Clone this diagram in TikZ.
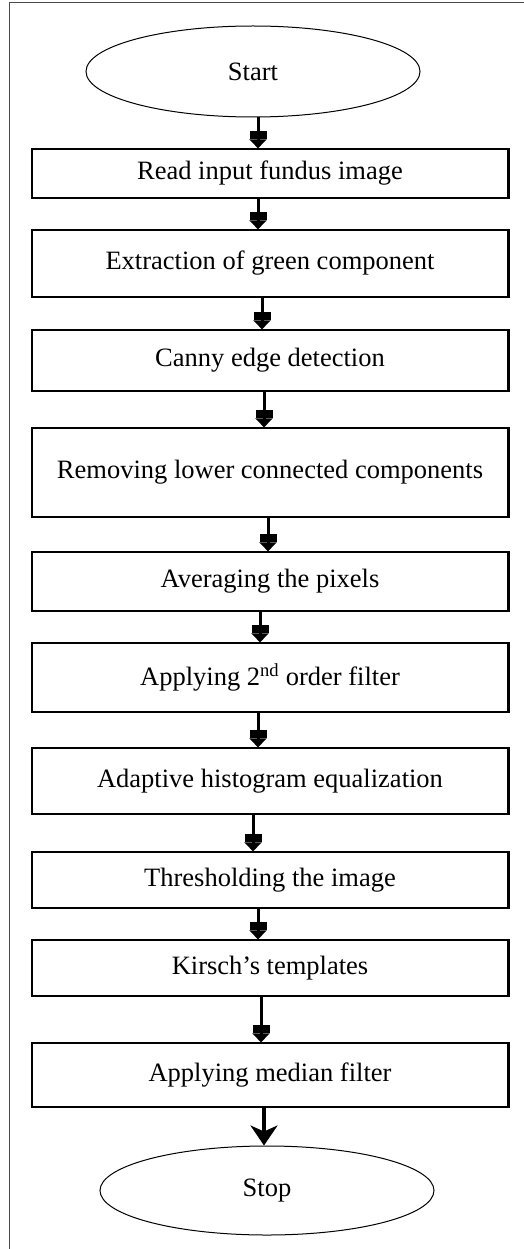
\documentclass[tikz,border=0pt]{standalone}
\usepackage{fontspec}
\setmainfont{Liberation Serif}
\usetikzlibrary{arrows.meta,shapes.geometric}
\begin{document}
\begin{tikzpicture}[x=1pt,y=-1pt,
  txt/.style={font=\fontsize{26.5}{30}\selectfont},
  stepbox/.style={txt, draw=black, line width=1.3pt, minimum width=476pt, inner sep=0pt, fill=white},
  term/.style={txt, ellipse, draw=black, line width=1pt, minimum width=334pt, inner sep=0pt},
  arr/.style={line width=3pt, -{Rectangle[width=17pt,length=8pt] Triangle[width=17pt,length=9pt]}},
  bigarr/.style={line width=4pt, -{Stealth[width=27pt,length=20pt,inset=6pt]}},
  shade/.style={line width=3.2pt}
]
\useasboundingbox (0,0) rectangle (524,1249);
% frame
\draw[line width=1pt, black!70] (9,1249) -- (9,3) -- (524,3);

\node[term, minimum height=91pt] (s) at (253,71.5) {Start};
\node[stepbox, minimum height=49pt] (b1) at (270,173.5) {Read input fundus image};
\node[stepbox, minimum height=67pt] (b2) at (270,263.5) {Extraction of green component};
\node[stepbox, minimum height=61pt] (b3) at (270,360.5) {Canny edge detection};
\node[stepbox, minimum height=89pt] (b4) at (270,472.5) {Removing lower connected components};
\node[stepbox, minimum height=59pt] (b5) at (270,581.5) {Averaging the pixels};
\node[stepbox, minimum height=69pt] (b6) at (270,677.5) {Applying 2\textsuperscript{nd} order filter};
\node[stepbox, minimum height=66pt] (b7) at (270,781) {Adaptive histogram equalization};
\node[stepbox, minimum height=56pt] (b8) at (270,880) {Thresholding the image};
\node[stepbox, minimum height=56pt] (b9) at (270,968) {Kirsch’s templates};
\node[stepbox, minimum height=64pt] (b10) at (270,1075) {Applying median filter};
\node[term, minimum height=89pt] (e) at (267,1190.5) {Stop};

\foreach \b in {b1,b2,b3,b4,b5,b6,b7,b8,b9,b10}
  \draw[shade] (\b.north east) -- (\b.south east);

\draw[arr] ([xshift=5pt]s.south) -- ([xshift=5pt]s.south |- b1.north);
\draw[arr] ([xshift=-12pt]b1.south) -- ([xshift=-12pt]b2.north);
\draw[arr] ([xshift=-8pt]b2.south) -- ([xshift=-8pt]b3.north);
\draw[arr] ([xshift=-6pt]b3.south) -- ([xshift=-6pt]b4.north);
\draw[arr] ([xshift=-2pt]b4.south) -- ([xshift=-2pt]b5.north);
\draw[arr] ([xshift=-10pt]b5.south) -- ([xshift=-10pt]b6.north);
\draw[arr] ([xshift=-12pt]b6.south) -- ([xshift=-12pt]b7.north);
\draw[arr] ([xshift=-17pt]b7.south) -- ([xshift=-17pt]b8.north);
\draw[arr] ([xshift=-12pt]b8.south) -- ([xshift=-12pt]b9.north);
\draw[arr] ([xshift=-9pt]b9.south) -- ([xshift=-9pt]b10.north);
\draw[bigarr] ([xshift=-6pt]b10.south) -- ([xshift=-6pt]b10.south |- e.north);
\end{tikzpicture}
\end{document}
